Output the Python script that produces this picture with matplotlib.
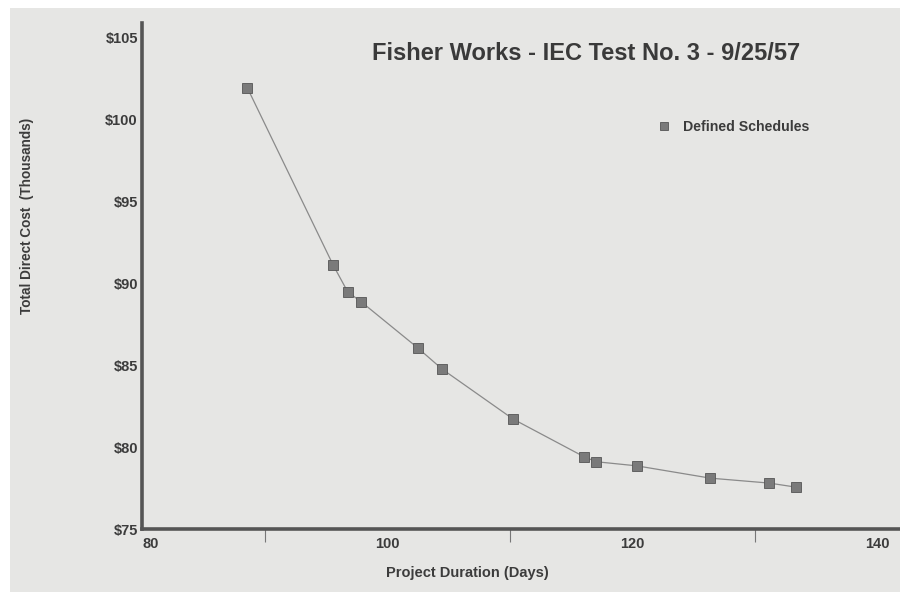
import matplotlib.pyplot as plt
from matplotlib.patches import Rectangle
from matplotlib.ticker import FixedLocator

# Données
duree_jours = [88.6, 95.6, 96.8, 97.9, 102.5, 104.5, 110.3, 116.1, 117.1, 120.4, 126.4, 131.2, 133.4]
cout_milliers = [101.9, 91.1, 89.45, 88.85, 86.05, 84.75, 81.7, 79.4, 79.1, 78.85, 78.1, 77.8, 77.55]
ticks_x = [80, 100, 120, 140]
ticks_x_mineurs = [90, 110, 130]
ticks_y = [75, 80, 85, 90, 95, 100, 105]
labels_y = ['$75', '$80', '$85', '$90', '$95', '$100', '$105']

titre = 'Fisher Works - IEC Test No. 3 - 9/25/57'
serie = 'Defined Schedules'

plt.rcParams['font.family'] = ['Liberation Sans', 'DejaVu Sans']
texte = '#3c3c3c'

fig = plt.figure(figsize=(9, 5.92), dpi=100, facecolor='white')
# fond gris de la page scannée
fig.add_artist(Rectangle((10 / 900, 0), 1, 1 - 8 / 592, transform=fig.transFigure,
                         facecolor='#e6e6e4', edgecolor='none', zorder=-10))

ax = fig.add_axes([142 / 900, 1 - 529 / 592, 1 - 142 / 900, (529 - 23) / 592])
ax.patch.set_visible(False)

ax.plot(duree_jours, cout_milliers, color='#8a8a8a', linewidth=0.9,
        marker='s', markersize=6.5, markerfacecolor='#7a7a7a',
        markeredgecolor='#555555', markeredgewidth=0.6, label=serie, clip_on=False)

ax.set_xlim(80, 80 + 758 / 12.25)
ax.set_ylim(75, 75 + 506 / 16.4)

for s in ['top', 'right']:
    ax.spines[s].set_visible(False)
for s in ['left', 'bottom']:
    ax.spines[s].set_color('#555555')
    ax.spines[s].set_linewidth(2.6)

ax.set_yticks(ticks_y)
ax.set_yticklabels(labels_y)
ax.xaxis.set_major_locator(FixedLocator(ticks_x))
ax.xaxis.set_minor_locator(FixedLocator(ticks_x_mineurs))
ax.tick_params(axis='both', which='major', length=0, labelsize=10.5, labelcolor=texte)
ax.tick_params(axis='y', pad=3)
ax.tick_params(axis='x', pad=6)
ax.tick_params(axis='x', which='minor', length=9, width=0.8, color='#777777', direction='out')
for lab in ax.get_xticklabels() + ax.get_yticklabels():
    lab.set_fontweight('bold')
# le "80" est décalé à droite de l'origine
ax.get_xticklabels()[0].set_horizontalalignment('left')

fig.text(27 / 900, 1 - 216 / 592, 'Total Direct Cost  (Thousands)', rotation=90,
         ha='center', va='center', fontsize=9.8, fontweight='bold', color=texte)
fig.text(467 / 900, 1 - 573 / 592, 'Project Duration (Days)', ha='center', va='center',
         fontsize=10.5, fontweight='bold', color=texte)
fig.text(586 / 900, 1 - 53 / 592, titre, ha='center', va='center',
         fontsize=17, fontweight='bold', color='#3a3a3a')

ax.legend(loc='center left', bbox_to_anchor=(643 / 900, 1 - 127 / 592),
          bbox_transform=fig.transFigure, frameon=False, handlelength=1.2,
          handletextpad=0.7, prop={'weight': 'bold', 'size': 10.2}, labelcolor=texte,
          markerscale=0.9)
leg = ax.get_legend()
for h in leg.legend_handles:
    h.set_linestyle('none')

fig.savefig('out.png', dpi=100)
